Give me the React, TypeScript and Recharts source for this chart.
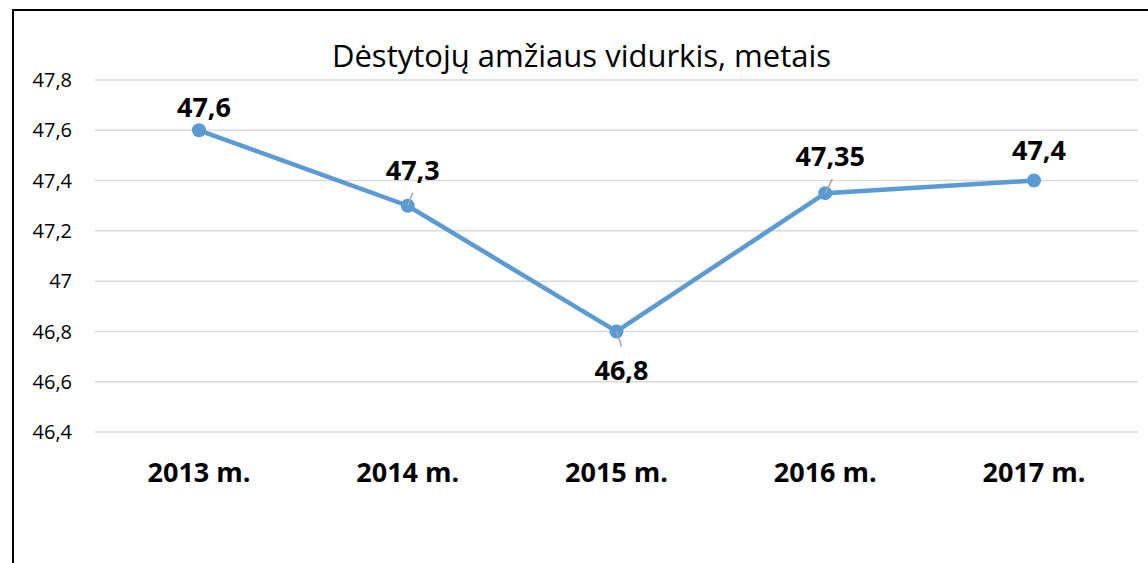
import React from 'react';
import { LineChart, Line, XAxis, YAxis, CartesianGrid, LabelList, Customized } from 'recharts';

const categories = ['2013 m.', '2014 m.', '2015 m.', '2016 m.', '2017 m.'];
const values = [47.6, 47.3, 46.8, 47.35, 47.4];
const yTicks = [46.4, 46.6, 46.8, 47, 47.2, 47.4, 47.6, 47.8];
const title = 'Dėstytojų amžiaus vidurkis, metais';

const data = categories.map((c, i) => ({ name: c, value: values[i] }));

// label placement (annotation layout): baseline offset from point, leader line end
const labelLayout = [
  { dy: -13, leader: null },
  { dy: -26, leader: [5, -13] },
  { dy: 49, leader: [5, 15] },
  { dy: -27, leader: [7, -14] },
  { dy: -21, leader: null },
];

const FONT = '"Open Sans", sans-serif';
const fmt = (v: number) => String(v).replace('.', ',');

const renderLabel = (props: any) => {
  const { x, y, value, index } = props;
  const lay = labelLayout[index] || { dy: -15, leader: null };
  return (
    <g>
      {lay.leader && (
        <line x1={x} y1={y} x2={x + lay.leader[0]} y2={y + lay.leader[1]} stroke="#a6a6a6" strokeWidth={1.5} />
      )}
      <text x={x + 5} y={y + lay.dy} textAnchor="middle" fontFamily={FONT} fontWeight="bold" fontSize={27} fill="#000">
        {fmt(value)}
      </text>
    </g>
  );
};

const Title = () => (
  <text x={581.5} y={67} textAnchor="middle" fontFamily={FONT} fontSize={31} fill="#000">
    {title}
  </text>
);

export default function App() {
  return (
    <div style={{ position: 'absolute', left: 0, top: 0, width: 1148, height: 563, overflow: 'hidden', background: '#fff' }}>
      <div
        style={{
          position: 'absolute',
          left: 12,
          top: 9,
          width: 1300,
          height: 700,
          borderLeft: '2px solid #000',
          borderTop: '2px solid #000',
        }}
      />
      <div style={{ position: 'absolute', left: 0, top: 0 }}>
        <LineChart width={1148} height={563} data={data} margin={{ top: 80, right: 10, bottom: 0, left: 0 }}>
          <CartesianGrid vertical={false} stroke="#d9d9d9" strokeWidth={1.5} />
          <XAxis
            dataKey="name"
            axisLine={false}
            tickLine={false}
            tickSize={0}
            tickMargin={31}
            height={131}
            interval={0}
            padding={{ left: 104, right: 104 }}
            tick={{ fontFamily: FONT, fontWeight: 'bold', fontSize: 27, fill: '#000' }}
          />
          <YAxis
            domain={[46.4, 47.8]}
            ticks={yTicks}
            axisLine={false}
            tickLine={false}
            tickSize={0}
            tickMargin={23}
            width={95}
            tickFormatter={fmt}
            tick={{ fontFamily: FONT, fontSize: 20, fill: '#000' }}
          />
          <Line
            type="linear"
            dataKey="value"
            stroke="#5b9bd5"
            strokeWidth={4.5}
            dot={{ r: 7, fill: '#5b9bd5', stroke: '#5b9bd5', strokeWidth: 0 }}
            isAnimationActive={false}
          >
            <LabelList dataKey="value" content={renderLabel} />
          </Line>
          <Customized component={Title} />
        </LineChart>
      </div>
    </div>
  );
}
